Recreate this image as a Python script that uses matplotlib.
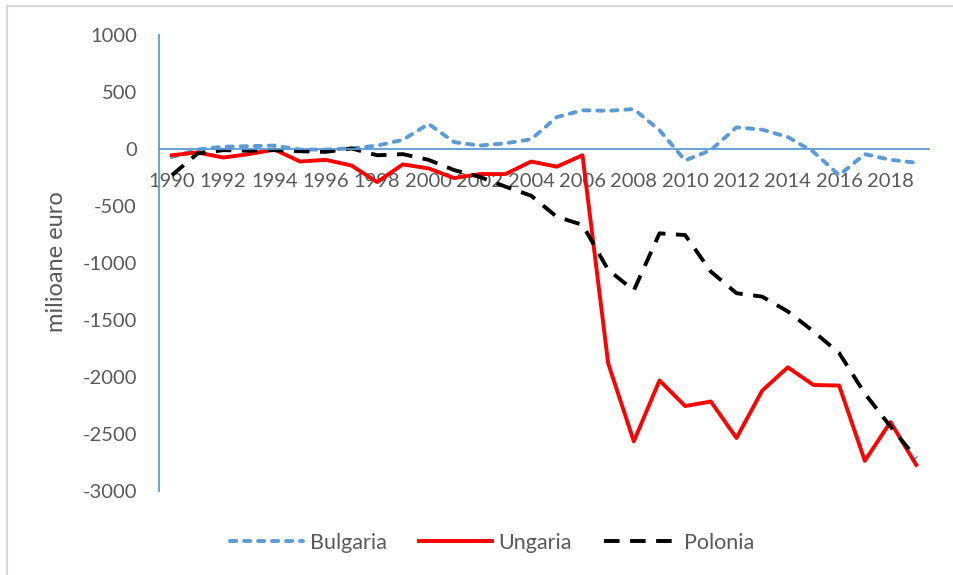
import matplotlib
matplotlib.use('Agg')
import matplotlib.pyplot as plt
from matplotlib.patches import Rectangle
import numpy as np

# ----------------------------------------------------------------------------------------------------------------------
years = list(range(1990, 2020))
tick_years = [str(y) for y in range(1990, 2020, 2)]

bulgaria = [-70, -5, 20, 25, 30, -5, -5, 5, 30, 80, 220, 60, 30, 50, 85, 280, 340, 335, 350, 165,
            -100, -10, 190, 170, 105, -25, -230, -45, -95, -120]
ungaria = [-55, -30, -75, -45, -5, -110, -95, -145, -290, -135, -170, -255, -220, -220, -110, -155, -55,
           -1880, -2565, -2030, -2255, -2215, -2535, -2120, -1915, -2070, -2075, -2735, -2395, -2770]
polonia = [-230, -40, -10, -15, -10, -20, -25, 5, -55, -45, -95, -185, -245, -330, -410, -595, -665,
           -1060, -1240, -740, -755, -1075, -1265, -1295, -1425, -1600, -1790, -2145, -2435, -2710]

y_ticks = [1000, 500, 0, -500, -1000, -1500, -2000, -2500, -3000]

plt.rcParams.update({
    "font.family": ["Lato", "DejaVu Sans"],
    "font.size": 14.5,
    "axes.unicode_minus": False,
})
grey = '#595959'
axis_blue = '#5b9bd5'

fig, ax = plt.subplots(figsize=(9.54, 5.75), dpi=100)
plt.subplots_adjust(left=159 / 954, right=929 / 954, bottom=1 - 491 / 575, top=1 - 35 / 575)

x = np.arange(len(years))
ax.plot(x, bulgaria, color=axis_blue, linewidth=2.8, linestyle=(0, (1.6, 2.0)),
        dash_capstyle='round', label='Bulgaria')
ax.plot(x, ungaria, color='#ff0000', linewidth=2.8, label='Ungaria')
ax.plot(x, polonia, color='black', linewidth=2.8, linestyle=(0, (4.0, 2.7)), label='Polonia')

ax.set_xlim(-0.5, len(years) - 0.5)
ax.set_ylim(-3000, 1000)
ax.set_yticks(y_ticks)
ax.set_xticks(np.arange(0, len(years), 2))
ax.set_xticklabels(tick_years)

for side in ['top', 'right']:
    ax.spines[side].set_visible(False)
ax.spines['bottom'].set_position(('data', 0))
ax.spines['bottom'].set_color(axis_blue)
ax.spines['bottom'].set_linewidth(1.3)
ax.spines['left'].set_color(axis_blue)
ax.spines['left'].set_linewidth(1.3)
ax.set_zorder(1)

ax.tick_params(axis='y', length=0, pad=16, labelcolor=grey)
ax.tick_params(axis='x', length=0, pad=17, labelcolor=grey)

fig.text(57 / 954, 1 - 262 / 575, 'milioane euro', rotation=90, ha='center', va='center',
         color=grey, fontsize=17)

fig.legend(loc='center', bbox_to_anchor=(492 / 954, 1 - 543 / 575), ncol=3, frameon=False,
           fontsize=15.5, handlelength=3.4, handletextpad=0.3, columnspacing=1.5, labelcolor=grey)

# chart area border (only top and left edges are visible in the picture)
fig.patches.append(Rectangle((7 / 954, -0.1), 1.2, 1.1 - 6 / 575, transform=fig.transFigure,
                             fill=False, edgecolor='#d9d9d9', linewidth=1.5))

plt.savefig('out.png', dpi=100)
